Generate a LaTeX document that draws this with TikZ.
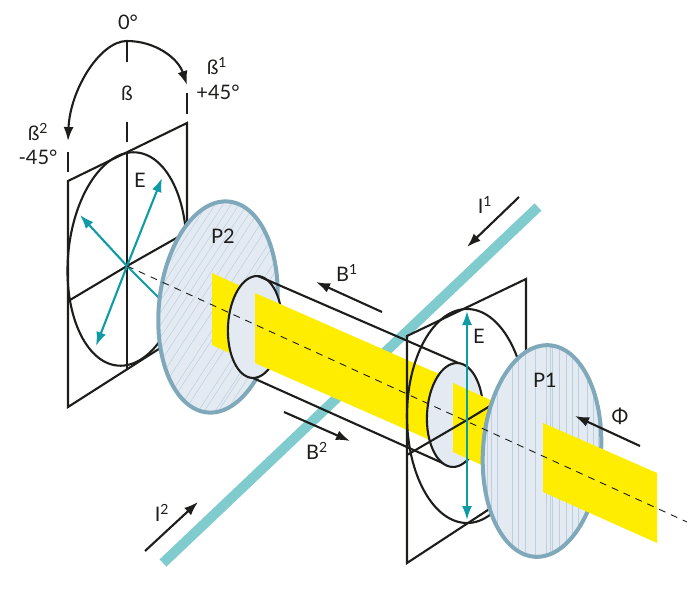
\documentclass[tikz,border=0pt]{standalone}
\usepackage{fontspec}
\setmainfont{Lato}
\usetikzlibrary{arrows.meta}
\definecolor{beamyellow}{HTML}{FFED00}
\definecolor{wireteal}{HTML}{7FCBCE}
\definecolor{fieldteal}{HTML}{0E9BA5}
\definecolor{polaredge}{HTML}{7FA8BA}
\definecolor{polarfill}{HTML}{E3EAF2}
\definecolor{polarhatch}{HTML}{BCD0DF}
\definecolor{inkblack}{HTML}{1D1D1B}
\tikzset{
    frameline/.style={draw=inkblack,line width=2.1pt},
    flowarrow/.style={draw=inkblack,line width=2.1pt,-{Latex[length=14pt,width=10pt]}},
    fieldarrow/.style={draw=fieldteal,line width=2.1pt,-{Latex[length=14pt,width=10pt]}},
    beam/.style={fill=beamyellow,draw=none},
    polaredgeline/.style={draw=polaredge,line width=4pt},
    lbl/.style={font=\fontsize{20}{22}\selectfont,text=inkblack,inner sep=0pt},
}
\begin{document}
\begin{tikzpicture}[x=1pt,y=-1pt]
    \useasboundingbox (0,0) rectangle (700,588);

    \coordinate (C2) at (127,266);
    \coordinate (C1) at (467,420);
    \coordinate (axisend) at (687,522);

    % wire behind everything
    \draw[wireteal,line width=10pt] (538,207) -- (163,563);

    % left frame
    \draw[frameline,line join=miter] (68,181) -- (187,123) -- (187,331) -- (68,407) -- cycle;
    \draw[frameline] (127,259) circle[x radius=59,y radius=107,rotate=-5];
    \draw[frameline] (127,152) -- (127,369);
    \draw[frameline] (70,300) -- (C2) -- (187,232);

    % E directions
    \coordinate (Ea) at (162,178);
    \coordinate (Eb) at (80,215);
    \coordinate (Ec) at (96,346);
    \coordinate (Ed) at (170,309);
    \foreach \e in {Ea,Eb,Ec}
        \draw[fieldarrow] (C2) -- (\e);
    \draw[draw=fieldteal,line width=2.1pt] (C2) -- (Ed);

    % P2
    \begin{scope}
        \fill[polarfill] (218,307) circle[x radius=59,y radius=106,rotate=-6];
        \clip (218,307) circle[x radius=59,y radius=106,rotate=-6];
        \foreach \i in {60,68,...,116,126,135,147,153,165,172,186,192,203,206,214,226,232,240,248,...,300}
            \draw[polarhatch,line width=0.5pt] (\i,430) -- (\i+150,200);
    \end{scope}
    \draw[polaredgeline] (218,307) circle[x radius=59,y radius=106,rotate=-6];

    % beam behind the first cap
    \fill[beam] (212,273) -- (260,295) -- (260,367) -- (212,345) -- cycle;

    % cylinder
    \draw[frameline,fill=polarfill] (255,327) circle[x radius=27,y radius=51,rotate=-3];
    \fill[beam] (255,293) -- (455,381) -- (455,451) -- (255,363) -- cycle;
    \draw[frameline] (258,276) -- (463,365);
    \draw[frameline] (253,378) -- (447,465);

    % right frame
    \draw[frameline,line join=miter] (407,336) -- (526,279) -- (526,485) -- (407,563) -- cycle;
    \draw[frameline] (467,416) circle[x radius=60,y radius=107];
    \draw[frameline,fill=polarfill] (455,415) circle[x radius=28,y radius=52,rotate=-3];
    \fill[beam] (453,383) -- (495,402) -- (495,471) -- (453,452) -- cycle;
    \draw[frameline] (407,455) -- (C1) -- (495,403);
    \draw[fieldarrow,{Latex[length=14pt,width=10pt]}-{Latex[length=14pt,width=10pt]}] (467,311) -- (467,520);

    % P1
    \begin{scope}
        \fill[polarfill] (542,451) circle[x radius=59,y radius=106,rotate=-4];
        \clip (542,451) circle[x radius=59,y radius=106,rotate=-4];
        \foreach \i in {487,491,497,512,518,525,535,546,550,552,559,566,572,578,587,593,598}
            \draw[polarhatch,line width=0.5pt] (\i,340) -- (\i,560);
    \end{scope}
    \draw[polaredgeline] (542,451) circle[x radius=59,y radius=106,rotate=-4];

    % beam leaving P1
    \fill[beam] (543,423) -- (657,473) -- (657,543) -- (543,492) -- cycle;

    % axis
    \draw[inkblack,line width=0.9pt,dash pattern=on 7pt off 6pt] (C2) -- (axisend);

    % rotation of P2
    \coordinate (arctop) at (127,41);
    \coordinate (arcright) at (187,85);
    \coordinate (arcleft) at (68,141);
    \draw[flowarrow] (arctop) .. controls (155,41) and (178,58) .. (arcright);
    \draw[flowarrow] (arctop) .. controls (100,41) and (70,90) .. (arcleft);
    \foreach \x/\a/\b in {127/42/62,127/122/142,187/93/114,68/152/172}
        \draw[frameline] (\x,\a) -- (\x,\b);

    % current, field and flux arrows
    \coordinate (Bua) at (382,312);
    \coordinate (Bub) at (316,282);
    \coordinate (Bda) at (284,412);
    \coordinate (Bdb) at (350,441);
    \coordinate (Iua) at (519,197);
    \coordinate (Iub) at (467,247);
    \coordinate (Ida) at (145,551);
    \coordinate (Idb) at (198,502);
    \coordinate (Fa) at (640,446);
    \coordinate (Fb) at (575,416);
    \foreach \a/\b in {Bua/Bub,Bda/Bdb,Iua/Iub,Ida/Idb,Fa/Fb}
        \draw[flowarrow] (\a) -- (\b);

    % labels
    \node[lbl] (zero) at (128,22) {0°};
    \node[lbl] (beta) at (127,93) {ß};
    \node[lbl] (betaone) at (217,66) {ß\textsuperscript{1}};
    \node[lbl] (plus) at (218,92) {+45°};
    \node[lbl] (betatwo) at (38,132) {ß\textsuperscript{2}};
    \node[lbl] (minus) at (38,157) {-45°};
    \node[lbl] (Eleft) at (140,180) {E};
    \node[lbl] (Eright) at (479,336) {E};
    \node[lbl] (Ptwo) at (223,236) {P2};
    \node[lbl] (Pone) at (545,380) {P1};
    \node[lbl] (phi) at (620,416) {Φ};
    \node[lbl] (Bone) at (347,273) {B\textsuperscript{1}};
    \node[lbl] (Btwo) at (317,451) {B\textsuperscript{2}};
    \node[lbl] (Ione) at (485,205) {I\textsuperscript{1}};
    \node[lbl] (Itwo) at (162,513) {I\textsuperscript{2}};
\end{tikzpicture}
\end{document}
